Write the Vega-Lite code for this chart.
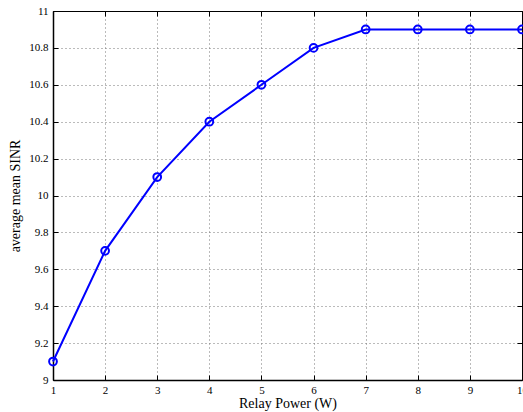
{
  "$schema": "https://vega.github.io/schema/vega-lite/v6.json",
  "width": 469,
  "height": 369,
  "autosize": {"type": "none"},
  "padding": {"left": 53, "top": 11, "right": 1, "bottom": 32},
  "background": "white",
  "config": {
    "view": {"stroke": "black", "strokeWidth": 1},
    "font": "Liberation Serif"
  },
  "data": {
    "values": [
      {"power": 1, "sinr": 9.1},
      {"power": 2, "sinr": 9.7},
      {"power": 3, "sinr": 10.1},
      {"power": 4, "sinr": 10.4},
      {"power": 5, "sinr": 10.6},
      {"power": 6, "sinr": 10.8},
      {"power": 7, "sinr": 10.9},
      {"power": 8, "sinr": 10.9},
      {"power": 9, "sinr": 10.9},
      {"power": 10, "sinr": 10.9}
    ]
  },
  "layer": [
    {
      "mark": {"type": "line", "color": "#0000ff", "strokeWidth": 2, "clip": false},
      "encoding": {
        "x": {
          "field": "power", "type": "quantitative",
          "scale": {"domain": [1, 10], "nice": false, "zero": false},
          "axis": {
            "values": [1, 2, 3, 4, 5, 6, 7, 8, 9, 10],
            "title": "Relay Power (W)",
            "titleFont": "Liberation Serif", "titleFontSize": 14, "titleFontWeight": "normal", "titleColor": "black",
            "titlePadding": 1,
            "labelFont": "Liberation Serif", "labelFontSize": 11, "labelColor": "black",
            "labelPadding": 9,
            "labelFlush": false,
            "tickSize": -5, "tickColor": "black", "tickWidth": 1,
            "domainColor": "black", "domainWidth": 1.5,
            "grid": true, "gridColor": "#777777", "gridDash": [1, 3], "gridWidth": 1
          }
        },
        "y": {
          "field": "sinr", "type": "quantitative",
          "scale": {"domain": [9, 11], "nice": false, "zero": false},
          "axis": {
            "values": [9, 9.2, 9.4, 9.6, 9.8, 10, 10.2, 10.4, 10.6, 10.8, 11],
            "format": "~g",
            "title": "average mean SINR",
            "titleFont": "Liberation Serif", "titleFontSize": 14, "titleFontWeight": "normal", "titleColor": "black",
            "titlePadding": 6,
            "labelFont": "Liberation Serif", "labelFontSize": 11, "labelColor": "black",
            "labelPadding": 10,
            "labelFlush": false,
            "tickSize": -5, "tickColor": "black", "tickWidth": 1,
            "domainColor": "black", "domainWidth": 1.5,
            "grid": true, "gridColor": "#777777", "gridDash": [1, 3], "gridWidth": 1
          }
        }
      }
    },
    {
      "mark": {"type": "point", "shape": "circle", "filled": false, "color": "#0000ff", "strokeWidth": 2, "size": 60, "opacity": 1, "clip": false},
      "encoding": {
        "x": {"field": "power", "type": "quantitative", "axis": null},
        "y": {"field": "sinr", "type": "quantitative", "axis": null}
      }
    },
    {
      "mark": {"type": "point", "opacity": 0},
      "encoding": {
        "x": {
          "field": "power", "type": "quantitative",
          "axis": {"orient": "top", "values": [1, 2, 3, 4, 5, 6, 7, 8, 9, 10], "labels": false, "title": null, "grid": false, "tickSize": -5, "tickColor": "black", "domainColor": "black", "domainWidth": 1}
        },
        "y": {
          "field": "sinr", "type": "quantitative",
          "axis": {"orient": "right", "values": [9, 9.2, 9.4, 9.6, 9.8, 10, 10.2, 10.4, 10.6, 10.8, 11], "labels": false, "title": null, "grid": false, "tickSize": -5, "tickColor": "black", "domainColor": "black", "domainWidth": 1}
        }
      }
    }
  ],
  "resolve": {"axis": {"x": "independent", "y": "independent"}}
}
